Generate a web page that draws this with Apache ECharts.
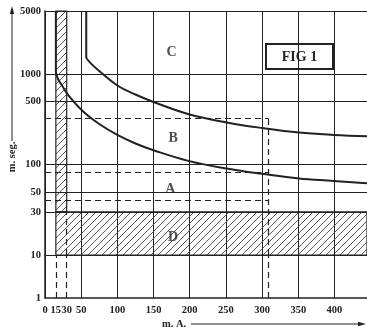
<!DOCTYPE html>
<html>
<head>
<meta charset="utf-8">
<script src="https://cdn.jsdelivr.net/npm/echarts@6/dist/echarts.min.js"></script>
<style>
  html, body { margin: 0; padding: 0; background: #fff; }
  #chart { width: 367px; height: 330px; }
</style>
</head>
<body>
<div id="chart"></div>
<script>
  // tick labels
  const xTicks = [0, 15, 30, 50, 100, 150, 200, 250, 300, 350, 400];
  const yTicksTop = [10, 30, 50, 100, 500, 1000, 5000];
  const yTicksBottom = [1];
  const yGridLines = [10, 30, 50, 100, 500, 1000, 5000];

  // curves: [m. A., m. seg.]  (vertical drops kept apart from the bends)
  const dropLower = [[15, 5000], [15, 1060]];
  const curveLower = [[15, 1060], [18, 885], [24, 740], [32, 589], [52, 392], [75, 281], [100, 213],
    [125, 171], [149, 145], [198, 110], [253, 90], [300, 79], [351, 70], [399, 66], [445, 62]];
  const dropUpper = [[57, 5000], [57, 1510]];
  const curveUpper = [[57, 1510], [64, 1300], [75, 1085], [100, 750], [125, 596], [149, 496],
    [200, 358], [253, 291], [300, 254], [351, 226], [399, 213], [445, 206]];

  // limits
  const dashLevels = [325, 83, 40];
  const dashX = 309;
  const bandX = [15, 30];
  const bandD = [10, 30];

  const zoneLabels = [[175, 1750, 'C'], [177, 194, 'B'], [173, 53, 'A'], [177, 15.8, 'D']];

  const ink = '#222';
  const serif = 'Liberation Serif';

  // hatch pattern
  const hatch = document.createElement('canvas');
  hatch.width = 7;
  hatch.height = 7;
  const hc = hatch.getContext('2d');
  hc.strokeStyle = '#444';
  hc.lineWidth = 0.9;
  hc.beginPath();
  hc.moveTo(-1, 8); hc.lineTo(8, -1);
  hc.moveTo(-1, 1); hc.lineTo(1, -1);
  hc.moveTo(6, 8); hc.lineTo(8, 6);
  hc.stroke();

  const chart = echarts.init(document.getElementById('chart'));

  const labelStyle = { fontFamily: serif, fontWeight: 'bold', fontSize: 10.5, color: ink, formatter: v => String(v) };
  const solid = { color: ink, width: 1, type: 'solid' };
  const dashed = { color: ink, width: 1.2, type: [6, 4] };

  const curve = (data, smooth) => ({
    type: 'line', xAxisIndex: 0, yAxisIndex: 0, data: data,
    showSymbol: false, smooth: smooth, silent: true,
    lineStyle: { color: ink, width: 2 }, z: 5,
  });

  const option = {
    animation: false,
    backgroundColor: '#fff',
    grid: [
      { left: 45, top: 11, width: 326, height: 244 },
      { left: 45, top: 255, width: 326, height: 43 },
    ],
    xAxis: [
      {
        gridIndex: 0, type: 'value', min: 0, max: 445, interval: 50,
        axisLine: { show: false }, axisTick: { show: false }, axisLabel: { show: false },
        splitLine: { show: true, lineStyle: solid },
      },
      {
        gridIndex: 1, type: 'value', min: 0, max: 445, interval: 50,
        axisLine: { show: true, lineStyle: { color: ink, width: 1.5 } },
        axisTick: { show: false },
        axisLabel: Object.assign({ customValues: xTicks, margin: 7, hideOverlap: false }, labelStyle),
        splitLine: { show: true, lineStyle: solid },
      },
    ],
    yAxis: [
      {
        gridIndex: 0, type: 'log', logBase: 10, min: 10, max: 5000,
        axisLine: { show: true, lineStyle: { color: ink, width: 1.5 } },
        axisTick: { show: false }, splitLine: { show: false },
        axisLabel: Object.assign({ customValues: yTicksTop, margin: 4 }, labelStyle),
      },
      {
        gridIndex: 1, type: 'log', logBase: 10, min: 1, max: 10,
        axisLine: { show: true, lineStyle: { color: ink, width: 1.5 } },
        axisTick: { show: false }, splitLine: { show: false },
        axisLabel: Object.assign({ customValues: yTicksBottom, margin: 4 }, labelStyle),
      },
    ],
    series: [
      {
        // hatched zones + grid/limit lines
        type: 'line', xAxisIndex: 0, yAxisIndex: 0, data: [], silent: true,
        markArea: {
          silent: true,
          itemStyle: { color: { image: hatch, repeat: 'repeat' }, borderColor: ink, borderWidth: 1.2 },
          data: [
            [{ coord: [bandX[0], bandD[1]] }, { coord: [bandX[1], 5000] }],
            [{ coord: [bandX[0], bandD[0]] }, { coord: [445, bandD[1]] }],
          ],
        },
        markLine: {
          silent: true, symbol: 'none', label: { show: false },
          data: yGridLines.map(v => ({ yAxis: v, lineStyle: solid }))
            .concat(dashLevels.map(v => [
              { coord: [0, v], lineStyle: dashed }, { coord: [dashX, v] },
            ]))
            .concat([
              [{ coord: [dashX, 10], lineStyle: dashed }, { coord: [dashX, dashLevels[0]] }],
              [{ coord: [bandX[1], 10], lineStyle: dashed }, { coord: [bandX[1], 30] }],
            ]),
        },
      },
      curve(dropLower, false),
      curve(curveLower, 0.4),
      curve(dropUpper, false),
      curve(curveUpper, 0.4),
      {
        type: 'scatter', xAxisIndex: 0, yAxisIndex: 0, data: zoneLabels,
        symbolSize: 1, itemStyle: { color: 'rgba(0,0,0,0)' }, z: 6, silent: true,
        label: {
          show: true, position: 'inside', formatter: p => p.data[2],
          fontFamily: serif, fontWeight: 'bold', fontSize: 14, color: ink,
        },
      },
      {
        // lower strip: dashed verticals
        type: 'line', xAxisIndex: 1, yAxisIndex: 1, data: [], silent: true,
        markLine: {
          silent: true, symbol: 'none', label: { show: false },
          lineStyle: dashed,
          data: [{ xAxis: bandX[0] }, { xAxis: bandX[1] }, { xAxis: dashX }],
        },
      },
    ],
    graphic: [
      {
        type: 'group', left: 265, top: 43,
        children: [
          { type: 'rect', shape: { x: 0, y: 0, width: 67, height: 25 }, style: { fill: '#fff', stroke: ink, lineWidth: 2 } },
          { type: 'text', x: 33.5, y: 13, style: { text: 'FIG 1', fontFamily: serif, fontWeight: 'bold', fontSize: 14, fill: ink, align: 'center', verticalAlign: 'middle' } },
        ],
      },
      { type: 'text', x: 12, y: 157, rotation: Math.PI / 2, style: { text: 'm. seg.', fontFamily: serif, fontWeight: 'bold', fontSize: 10.5, fill: ink, align: 'center', verticalAlign: 'middle' } },
      { type: 'line', shape: { x1: 12, y1: 141, x2: 12, y2: 12 }, style: { stroke: ink, lineWidth: 1 } },
      { type: 'polygon', shape: { points: [[12, 6], [9.8, 14], [14.2, 14]] }, style: { fill: ink } },
      { type: 'text', x: 174, y: 324, style: { text: 'm. A.', fontFamily: serif, fontWeight: 'bold', fontSize: 10.5, fill: ink, align: 'center', verticalAlign: 'middle' } },
      { type: 'line', shape: { x1: 191, y1: 324, x2: 360, y2: 324 }, style: { stroke: ink, lineWidth: 1 } },
      { type: 'polygon', shape: { points: [[366, 324], [358, 321.8], [358, 326.2]] }, style: { fill: ink } },
    ],
  };

  chart.setOption(option);
</script>
</body>
</html>
